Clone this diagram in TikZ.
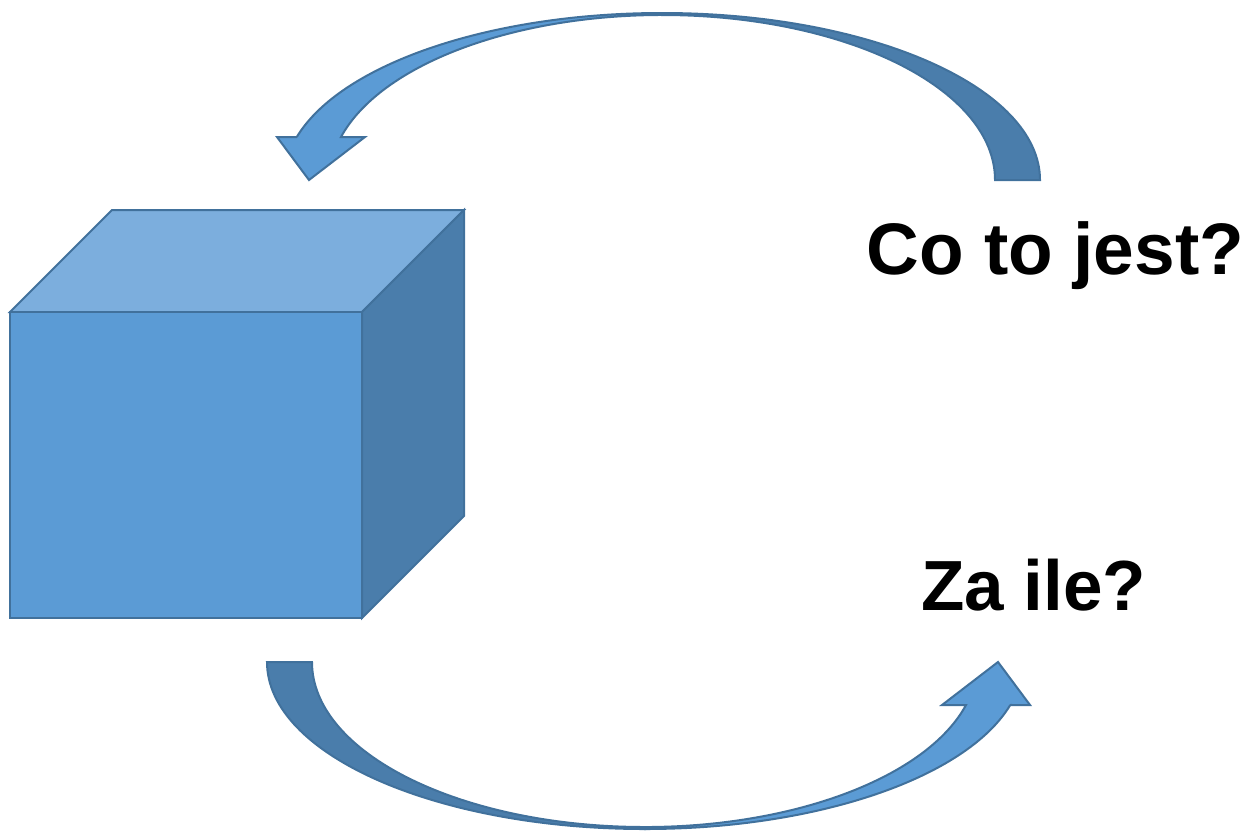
\documentclass[tikz,border=0pt]{standalone}
\usepackage{fontspec}
\setmainfont{Liberation Sans}
\definecolor{faceblue}{HTML}{5B9BD5}
\definecolor{topblue}{HTML}{7CAEDD}
\definecolor{sideblue}{HTML}{4A7DAB}
\definecolor{edgeblue}{HTML}{41719C}
\tikzset{
  facefill/.style={fill=faceblue, draw=edgeblue, line width=1pt, line join=miter},
  topfill/.style={fill=topblue, draw=edgeblue, line width=1pt, line join=miter},
  sidefill/.style={fill=sideblue, draw=edgeblue, line width=1pt, line join=miter},
  qlabel/.style={font=\bfseries\fontsize{35.5}{40}\selectfont, anchor=base, inner sep=0pt}
}
\newcommand{\curvedarrowshape}{%
  % dark underside: from top to tail
  \path[sidefill] (662,-13) arc[start angle=90, end angle=0, x radius=378, y radius=167]
    -- (995,-180) arc[start angle=0, end angle=90, x radius=333, y radius=165] -- cycle;
  % light face: from top to arrow head
  \path[facefill] (296.8,-137) -- (277,-137) -- (309,-180) -- (365,-137) -- (341,-137)
    arc[start angle=164.9, end angle=90, x radius=333, y radius=165]
    -- (662,-13) arc[start angle=90, end angle=165.08, x radius=378, y radius=167] -- cycle;
}
\begin{document}
\begin{tikzpicture}[x=0.5pt,y=0.5pt]
\useasboundingbox (0,0) rectangle (1251,-831);
% cube
\coordinate (fa) at (10,-312);
\coordinate (fb) at (362,-312);
\coordinate (fc) at (362,-618);
\coordinate (fd) at (10,-618);
\path[topfill] (fa) -- ++(102,102) -- ++(352,0) -- (fb) -- cycle;
\path[sidefill] (fb) -- ++(102,102) -- ++(0,-306) -- (fc) -- cycle;
\path[facefill] (fa) rectangle (fc);
% top arrow
\curvedarrowshape
% bottom arrow (same shape rotated)
\begin{scope}[rotate around={180:(653.5,-421)}]
\curvedarrowshape
\end{scope}
% labels
\node[qlabel, font=\bfseries\fontsize{36.5}{40}\selectfont] (q1) at (1055.5,-274) {Co to jest?};
\node[qlabel] (q2) at (1033.5,-610) {Za ile?};
\end{tikzpicture}
\end{document}
